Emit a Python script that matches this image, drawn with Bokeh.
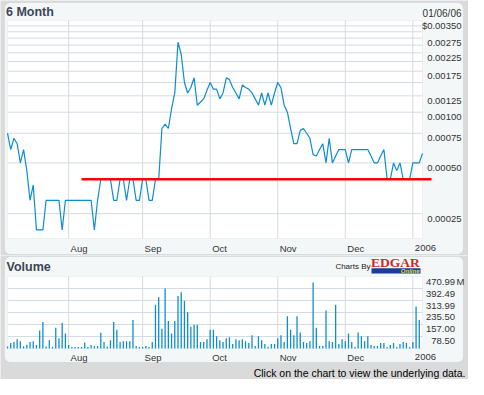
import math
import pandas as pd
from bokeh.plotting import figure
from bokeh.layouts import column
from bokeh.models import (ColumnDataSource, BoxAnnotation, Label, LabelSet, Range1d)
from bokeh.core.properties import value
from bokeh.embed import file_html
from bokeh.resources import INLINE

# ---------------- data ----------------
holidays = ["2005-09-05", "2005-11-24", "2005-12-26", "2006-01-02"]
dates = [d for d in pd.bdate_range("2005-07-05", "2006-01-06")
         if d.strftime("%Y-%m-%d") not in holidays]

price = [
    0.00075, 0.0006, 0.0007, 0.00065, 0.0005, 0.0006, 0.00045, 0.0003, 0.00037, 0.0002,
    0.0002, 0.0002, 0.0003, 0.0003, 0.0003, 0.0003, 0.0003, 0.0002, 0.0003, 0.0003,
    0.0003, 0.0003, 0.0003, 0.0003, 0.0003, 0.0003, 0.0003, 0.0002, 0.0003, 0.0004,
    0.0004, 0.0004, 0.0004, 0.0003, 0.0003, 0.0004, 0.0004, 0.0003, 0.0004, 0.0004,
    0.0003, 0.0003, 0.0004, 0.0004, 0.0003, 0.0003, 0.0004, 0.0004, 0.0008, 0.00085,
    0.0008, 0.00105, 0.0013, 0.0026, 0.0022, 0.0015, 0.0013, 0.0014, 0.0016, 0.0011,
    0.00115, 0.0012, 0.00135, 0.0015, 0.00137, 0.00137, 0.0012, 0.0013, 0.0016, 0.00156,
    0.0014, 0.0013, 0.0012, 0.00145, 0.0014, 0.00137, 0.0013, 0.0012, 0.0011, 0.0013,
    0.0011, 0.0013, 0.0011, 0.0013, 0.0015, 0.0014, 0.0011, 0.001, 0.0008, 0.00065,
    0.00065, 0.00078, 0.0008, 0.00075, 0.0007, 0.00056, 0.00055, 0.0006, 0.00065, 0.0005,
    0.0007, 0.0005, 0.00055, 0.0006, 0.0006, 0.0006, 0.0005, 0.0006, 0.0006, 0.0006,
    0.0006, 0.0006, 0.0006, 0.00055, 0.0005, 0.0005, 0.00055, 0.0006, 0.0004, 0.0004,
    0.0005, 0.00045, 0.0005, 0.0004, 0.0004, 0.0004, 0.0005, 0.0005, 0.0005, 0.00057,
]

volume_m = [
    13, 36, 42, 61, 48, 15, 25, 42, 48, 23,
    117, 174, 13, 54, 12, 136, 67, 167, 98, 23,
    10, 10, 10, 10, 40, 10, 23, 17, 17, 103,
    42, 13, 54, 174, 123, 42, 48, 48, 48, 186,
    17, 10, 10, 17, 10, 42, 287, 337, 130, 393,
    180, 98, 180, 343, 368, 312, 237, 142, 155, 155,
    42, 42, 61, 123, 123, 80, 54, 42, 67, 73,
    29, 61, 54, 61, 48, 36, 86, 17, 80, 54,
    29, 10, 29, 29, 67, 86, 42, 211, 123, 86,
    211, 105, 42, 36, 48, 431, 136, 17, 17, 249,
    48, 42, 287, 29, 61, 48, 98, 42, 10, 105,
    80, 48, 80, 23, 17, 17, 36, 36, 10, 23,
    36, 10, 29, 42, 36, 10, 42, 274, 186, 0,
]

support_level = 0.0004
support_start = 23

month_labels = ["Aug", "Sep", "Oct", "Nov", "Dec", "2006"]
price_ticks = [0.00025, 0.0005, 0.00075, 0.001, 0.00125, 0.00175, 0.00225, 0.00275, 0.0035]
price_tick_labels = ["0.00025", "0.00050", "0.00075", "0.00100", "0.00125",
                     "0.00175", "0.00225", "0.00275", "$0.00350"]
price_grid = [0.00025 * k for k in range(1, 14)]
price_lo, price_hi = 0.000178, 0.0035
vol_ticks = [78.50, 157.00, 235.50, 313.99, 392.49, 470.99]
vol_tick_labels = ["78.50", "157.00", "235.50", "313.99", "392.49", "470.99"]

n = len(price)
idx = list(range(n))
month_idx = [i for i in range(1, n) if dates[i].month != dates[i - 1].month]

# ---------------- style / layout ----------------
BG = "#dadada"
PANEL = "#f4f7f7"
PANEL_LINE = "#b8c0c8"
GRID = "#d5dbe3"
BLUE = "#0c8dcf"
TITLE = "#3b4556"
LBL = "#333333"
FONT = "Liberation Sans"

W = 468
H1, H2 = 255, 124
AL, AR = 7, 422                 # plot-area left/right (px)
P1T, P1B = 20, 238              # price plot-area top/bottom (px)
P2T, P2B = 21, 93               # volume plot-area top/bottom (px)

kx = (AR - AL) / (n - 1)        # px per trading day
xr = Range1d(-AL / kx, (n - 1) + (W - AR) / kx)

dec_px = math.log10(price_hi / price_lo) / (P1B - P1T)
yr1 = Range1d(price_lo * 10 ** (-(H1 - P1B) * dec_px), price_hi * 10 ** (P1T * dec_px))
v_px = vol_ticks[-1] / (P2B - P2T)
yr2 = Range1d(-(H2 - P2B) * v_px, vol_ticks[-1] + P2T * v_px)

src = ColumnDataSource(dict(i=idx, price=price, vol=volume_m))


def base_fig(height, yr, ytype):
    return figure(width=W, height=height, x_range=xr, y_range=yr, y_axis_type=ytype,
                  x_axis_location=None, y_axis_location=None, toolbar_location=None,
                  output_backend="svg", title=None, min_border=0,
                  border_fill_color=BG, background_fill_color=BG,
                  outline_line_color=None)


def add_panel(p, h, top, bottom, ylo, yhi):
    p.xgrid.visible = False
    p.ygrid.visible = False
    p.add_layout(BoxAnnotation(left=4, right=463, top=h - top, bottom=h - bottom,
                               left_units="screen", right_units="screen",
                               top_units="screen", bottom_units="screen",
                               fill_color=PANEL, fill_alpha=1.0,
                               line_color=PANEL_LINE, line_width=1,
                               border_radius=6, level="image"))
    p.add_layout(BoxAnnotation(left=0, right=n - 1, bottom=ylo, top=yhi,
                               fill_color="white", fill_alpha=1.0,
                               line_color=GRID, line_width=1, level="underlay"))


def month_grid(p, h, label_y, ylo, yhi):
    p.segment(x0=month_idx, x1=month_idx, y0=[ylo] * len(month_idx),
              y1=[yhi] * len(month_idx), line_color=GRID, line_width=1)
    ms = ColumnDataSource(dict(x=month_idx, t=month_labels))
    p.add_layout(LabelSet(source=ms, x="x", y=h - label_y, y_units="screen", text="t",
                          x_offset=2, text_align="left", text_baseline="middle",
                          text_font=value(FONT), text_font_size="9.5px",
                          text_color=LBL))


def hgrid(p, levels):
    p.segment(x0=[0] * len(levels), x1=[n - 1] * len(levels), y0=levels, y1=levels,
              line_color=GRID, line_width=1)


# ---------------- price panel ----------------
p1 = base_fig(H1, yr1, "log")
add_panel(p1, H1, 2, 254, price_lo, price_hi)
hgrid(p1, price_grid)
month_grid(p1, H1, 247.5, price_lo, price_hi)

p1.line("i", "price", source=src, line_color=BLUE, line_width=1.2)
p1.segment(x0=[support_start], x1=[(n - 1) + 9 / kx],
           y0=[support_level], y1=[support_level],
           line_color="#ff0000", line_width=2.5)

ps = ColumnDataSource(dict(y=price_ticks, t=price_tick_labels))
p1.add_layout(LabelSet(source=ps, x=461, y="y", x_units="screen", text="t",
                       y_offset=-5, text_align="right", text_baseline="middle",
                       text_font=value(FONT), text_font_size="9.5px",
                       text_color=LBL))
p1.add_layout(Label(x=5.5, y=H1 - 11.5, x_units="screen", y_units="screen",
                    text="6 Month", text_font=FONT, text_font_style="bold",
                    text_font_size="12.5px", text_color=TITLE,
                    text_align="left", text_baseline="middle"))
p1.add_layout(Label(x=461, y=H1 - 13.4, x_units="screen", y_units="screen",
                    text="01/06/06", text_font=FONT, text_font_size="10px",
                    text_color=LBL, text_align="right", text_baseline="middle"))

# ---------------- volume panel ----------------
p2 = base_fig(H2, yr2, "linear")
add_panel(p2, H2, 1, 107, 0, vol_ticks[-1])
hgrid(p2, vol_ticks[:-1])
month_grid(p2, H2, 101.5, 0, vol_ticks[-1])

p2.vbar(x="i", top="vol", width=0.4, bottom=0, source=src,
        fill_color=BLUE, line_color=None)

vs = ColumnDataSource(dict(y=vol_ticks, t=vol_tick_labels))
p2.add_layout(LabelSet(source=vs, x=454.5, y="y", x_units="screen", text="t",
                       y_offset=-5, text_align="right", text_baseline="middle",
                       text_font=value(FONT), text_font_size="9.5px",
                       text_color=LBL))
p2.add_layout(Label(x=456, y=vol_ticks[-1], x_units="screen", text="M",
                    y_offset=-5, text_font=FONT, text_font_size="9.5px",
                    text_color=LBL, text_align="left", text_baseline="middle"))
p2.add_layout(Label(x=6, y=H2 - 11.7, x_units="screen", y_units="screen",
                    text="Volume", text_font=FONT, text_font_style="bold",
                    text_font_size="12.5px", text_color=TITLE,
                    text_align="left", text_baseline="middle"))
p2.add_layout(Label(x=370, y=H2 - 11.3, x_units="screen", y_units="screen",
                    text="Charts By", text_font=FONT, text_font_size="8px",
                    text_color="#222222", text_align="right",
                    text_baseline="middle"))
p2.add_layout(Label(x=370.5, y=H2 - 7.2, x_units="screen", y_units="screen",
                    text="EDGAR", text_font="Liberation Serif",
                    text_font_style="bold", text_font_size="13.5px",
                    text_color="#cc2a2a", text_align="left",
                    text_baseline="middle"))
p2.add_layout(BoxAnnotation(left=371, right=420, top=H2 - 12.7, bottom=H2 - 17.9,
                            left_units="screen", right_units="screen",
                            top_units="screen", bottom_units="screen",
                            fill_color="#1c3f94", fill_alpha=1.0,
                            line_color=None))
p2.add_layout(Label(x=419, y=H2 - 15.3, x_units="screen", y_units="screen",
                    text="Online", text_font=FONT, text_font_style="bold italic",
                    text_font_size="6px", text_color="#e6dc2c",
                    text_align="right", text_baseline="middle"))
p2.add_layout(Label(x=465, y=H2 - 117.8, x_units="screen", y_units="screen",
                    text="Click on the chart to view the underlying data.",
                    text_font=FONT, text_font_size="10.5px",
                    text_color="#000000", text_align="right",
                    text_baseline="middle"))

layout = column(p1, p2, spacing=0)
open("out.html", "w").write(file_html(layout, INLINE))
